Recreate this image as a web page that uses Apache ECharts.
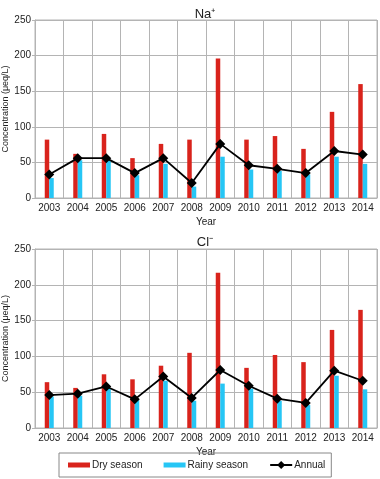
<!DOCTYPE html>
<html><head><meta charset="utf-8">
<script src="https://cdn.jsdelivr.net/npm/echarts@6/dist/echarts.min.js"></script>
<style>html,body{margin:0;padding:0;background:#fff}#c{width:380px;height:479px}</style>
</head><body><div id="c"></div>
<script>
const years = ['2003','2004','2005','2006','2007','2008','2009','2010','2011','2012','2013','2014'];
const yTicks = [0, 50, 100, 150, 200, 250];
const naDry    = [82, 62, 90, 56, 76, 82, 196, 82, 87, 69, 121, 160];
const naRainy  = [28, 53, 53, 32, 48, 16, 58, 40, 38, 33, 58, 48];
const naAnnual = [33, 56, 56, 35, 56, 21, 76, 46, 41, 35, 66, 61];
const clDry    = [64, 56, 75, 68, 87, 105, 217, 84, 102, 92, 137, 165];
const clRainy  = [44, 45, 55, 39, 66, 38, 62, 55, 38, 32, 73, 54];
const clAnnual = [46, 48, 58, 40, 72, 42, 81, 59, 41, 35, 80, 66];

const FONT = 'Liberation Sans';
const TXT = '#222';
const GRID = '#b4b4b4';
const RED = '#d9231c';
const BLUE = '#26c6f5';

function xAxis(i){
  return {type:'category', gridIndex:i, data:years, boundaryGap:true,
    name:'Year', nameLocation:'middle', nameGap:19, nameMoveOverlap:false,
    nameTextStyle:{fontFamily:FONT, fontSize:10, color:TXT},
    axisLine:{show:true, lineStyle:{color:GRID}}, axisTick:{show:false},
    axisLabel:{fontFamily:FONT, fontSize:10, color:TXT, margin:5, interval:0},
    splitLine:{show:true, lineStyle:{color:GRID, width:1}}};
}
function yAxis(i){
  return {type:'value', gridIndex:i, min:yTicks[0], max:yTicks[yTicks.length-1], interval:50,
    name:'Concentration (μeq/L)', nameLocation:'middle', nameGap:25, nameMoveOverlap:false,
    nameTextStyle:{fontFamily:FONT, fontSize:9, color:TXT},
    axisLine:{show:true, lineStyle:{color:GRID}},
    axisTick:{show:true, length:3, lineStyle:{color:GRID}},
    axisLabel:{fontFamily:FONT, fontSize:10, color:TXT, margin:4},
    splitLine:{show:true, lineStyle:{color:GRID, width:1}}};
}
function bar(name, data, color, i){
  return {name, type:'bar', xAxisIndex:i, yAxisIndex:i, data, barWidth:4.5, barGap:'0%',
    itemStyle:{color}, z:2, silent:true};
}
function line(data, i){
  return {name:'Annual', type:'line', xAxisIndex:i, yAxisIndex:i, data,
    symbol:'diamond', symbolSize:10, lineStyle:{color:'#000', width:1.8},
    itemStyle:{color:'#000'}, z:5, silent:true};
}

const RECT_ICON = 'path://M0,0h22v5h-22z';
const chart = echarts.init(document.getElementById('c'), null, {renderer:'canvas'});
chart.setOption({
  animation:false,
  backgroundColor:'#fff',
  title:[
    {text:'Na⁺', left:200, top:3, textAlign:'center', textStyle:{fontFamily:FONT, fontSize:13, fontWeight:'normal', color:TXT}},
    {text:'Cl⁻', left:200, top:231, textAlign:'center', textStyle:{fontFamily:FONT, fontSize:13, fontWeight:'normal', color:TXT}}
  ],
  grid:[
    {left:35, right:3, top:20, height:178, show:true, borderColor:GRID, borderWidth:1, backgroundColor:'transparent', containLabel:false, outerBoundsMode:'none'},
    {left:35, right:3, top:249, height:179, show:true, borderColor:GRID, borderWidth:1, backgroundColor:'transparent', containLabel:false, outerBoundsMode:'none'}
  ],
  legend:{
    left:59, top:453, orient:'horizontal',
    padding:[7,6,7,9], borderColor:'#888', borderWidth:1,
    itemGap:21, itemWidth:22, itemHeight:10, symbolKeepAspect:true,
    textStyle:{fontFamily:FONT, fontSize:10, color:TXT, padding:[0,0,0,-3]},
    data:[
      {name:'Dry season', icon:RECT_ICON},
      {name:'Rainy season', icon:RECT_ICON},
      {name:'Annual'}
    ]
  },
  xAxis:[xAxis(0), xAxis(1)],
  yAxis:[yAxis(0), yAxis(1)],
  series:[
    bar('Dry season', naDry, RED, 0),
    bar('Rainy season', naRainy, BLUE, 0),
    line(naAnnual, 0),
    bar('Dry season', clDry, RED, 1),
    bar('Rainy season', clRainy, BLUE, 1),
    line(clAnnual, 1)
  ]
});
</script></body></html>
